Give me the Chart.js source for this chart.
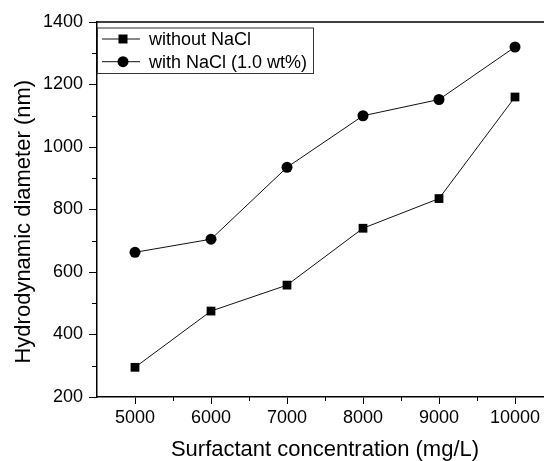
<!DOCTYPE html>
<html>
<head>
<meta charset="utf-8">
<script src="https://cdn.jsdelivr.net/npm/chart.js@4/dist/chart.umd.min.js"></script>
<style>
  html, body { margin: 0; padding: 0; overflow: hidden; background: #fff; }
</style>
</head>
<body>
<canvas id="dls" width="560" height="461"></canvas>
<script>
// surfactant concentration (mg/L)
const concentration = [5000, 6000, 7000, 8000, 9000, 10000]
// hydrodynamic diameter (nm)
const withoutNaCl = [295, 475, 558, 740, 835, 1160]
const withNaCl = [663, 705, 935, 1100, 1152, 1320]

const xMajorTicks = [5000, 6000, 7000, 8000, 9000, 10000]
const xMinorTicks = [5500, 6500, 7500, 8500, 9500]
const yMajorTicks = [200, 400, 600, 800, 1000, 1200, 1400]
const yMinorTicks = [300, 500, 700, 900, 1100, 1300]

const FONT = "'Liberation Sans', Arial, sans-serif"

// minor ticks + top frame line
const frame = {
  id: 'frame',
  afterDraw(chart) {
    const {ctx, chartArea, scales} = chart
    ctx.save()
    ctx.strokeStyle = '#000'
    ctx.lineWidth = 1
    ctx.beginPath()
    xMinorTicks.forEach(v => {
      const x = Math.round(scales.x.getPixelForValue(v)) + 0.5
      ctx.moveTo(x, chartArea.bottom)
      ctx.lineTo(x, chartArea.bottom + 4)
    })
    yMinorTicks.forEach(v => {
      const y = Math.round(scales.y.getPixelForValue(v)) + 0.5
      ctx.moveTo(chartArea.left, y)
      ctx.lineTo(chartArea.left - 5, y)
    })
    ctx.stroke()
    ctx.lineWidth = 1.5
    ctx.beginPath()
    ctx.moveTo(chartArea.left, chartArea.top)
    ctx.lineTo(chartArea.right, chartArea.top)
    ctx.stroke()
    ctx.restore()
  }
}

// boxed legend inside the plot, top-left
const legendBox = {
  id: 'legendBox',
  afterDraw(chart) {
    const {ctx, chartArea} = chart
    const x0 = chartArea.left
    const y0 = chartArea.top + 5.5
    const w = 216, h = 45.5
    ctx.save()
    ctx.strokeStyle = '#333'
    ctx.lineWidth = 1
    ctx.strokeRect(x0 + 0.5, y0 + 0.5, w, h)
    ctx.font = '18px ' + FONT
    ctx.textBaseline = 'middle'
    ctx.fillStyle = '#000'
    chart.data.datasets.forEach((ds, i) => {
      const y = y0 + 11.5 + i * 22.7
      ctx.strokeStyle = ds.borderColor
      ctx.lineWidth = 1
      ctx.beginPath()
      ctx.moveTo(x0 + 5, y)
      ctx.lineTo(x0 + 43, y)
      ctx.stroke()
      ctx.fillStyle = ds.pointBackgroundColor
      if (ds.pointStyle === 'rect') {
        ctx.fillRect(x0 + 26 - 4.5, y - 4.5, 9, 9)
      } else {
        ctx.beginPath()
        ctx.arc(x0 + 26, y, 5.5, 0, Math.PI * 2)
        ctx.fill()
      }
      ctx.fillStyle = '#000'
      ctx.fillText(ds.label, x0 + 52, y + 1)
    })
    ctx.restore()
  }
}

new Chart(document.getElementById('dls'), {
  type: 'line',
  data: {
    labels: concentration,
    datasets: [
      {
        label: 'without NaCl',
        data: concentration.map((c, i) => ({x: c, y: withoutNaCl[i]})),
        borderColor: '#111',
        borderWidth: 1,
        pointStyle: 'rect',
        pointRadius: 6.2,
        pointBackgroundColor: '#000',
        pointBorderWidth: 0,
        tension: 0
      },
      {
        label: 'with NaCl (1.0 wt%)',
        data: concentration.map((c, i) => ({x: c, y: withNaCl[i]})),
        borderColor: '#111',
        borderWidth: 1,
        pointStyle: 'circle',
        pointRadius: 5.5,
        pointBackgroundColor: '#000',
        pointBorderWidth: 0,
        tension: 0
      }
    ]
  },
  options: {
    responsive: false,
    animation: false,
    devicePixelRatio: 1,
    layout: {padding: {top: 22, right: 7, left: 0, bottom: 0}},
    plugins: {
      legend: {display: false},
      tooltip: {enabled: false}
    },
    scales: {
      x: {
        type: 'linear',
        min: 4500,
        max: 10500,
        afterBuildTicks: s => { s.ticks = xMajorTicks.map(v => ({value: v})) },
        afterFit: s => { s.height = 64 },
        border: {display: true, color: '#000', width: 1.5},
        grid: {drawOnChartArea: false, drawTicks: true, tickLength: 7, color: '#000', lineWidth: 1},
        ticks: {color: '#000', padding: 3, maxRotation: 0, font: {family: FONT, size: 18}, callback: v => String(v)},
        title: {
          display: true,
          text: 'Surfactant concentration (mg/L)',
          color: '#000',
          font: {family: FONT, size: 22, lineHeight: 1},
          padding: {top: 0, bottom: 0}
        }
      },
      y: {
        min: 200,
        max: 1400,
        afterBuildTicks: s => { s.ticks = yMajorTicks.map(v => ({value: v})) },
        afterFit: s => { s.width = 97 },
        border: {display: true, color: '#000', width: 1.5},
        grid: {drawOnChartArea: false, drawTicks: true, tickLength: 8, color: '#000', lineWidth: 1},
        ticks: {color: '#000', padding: 6, font: {family: FONT, size: 18}, callback: v => String(v)},
        title: {
          display: true,
          // trailing spaces nudge the rotated title down like the original
          text: 'Hydrodynamic diameter (nm)    ',
          color: '#000',
          font: {family: FONT, size: 22, lineHeight: 1},
          padding: {top: 13, bottom: 0}
        }
      }
    }
  },
  plugins: [frame, legendBox]
})
</script>
</body>
</html>
